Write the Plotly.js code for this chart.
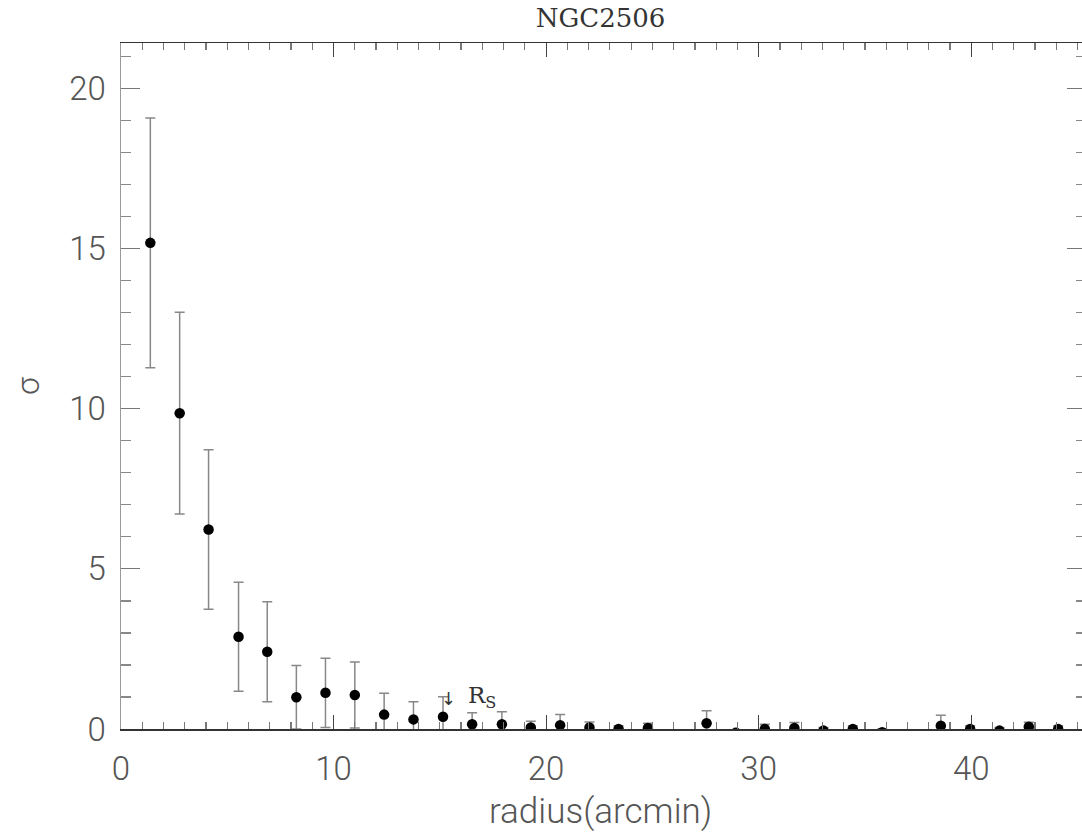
<!DOCTYPE html>
<html>
<head>
<meta charset="utf-8">
<script src="https://cdn.plot.ly/plotly-3.0.1.min.js"></script>
<style>
html,body{margin:0;padding:0;overflow:hidden;background:#fff;}
#chart{width:1086px;height:836px;}
</style>
</head>
<body>
<div id="chart"></div>
<script>
// Radial density profile of NGC2506
const radius = [1.38, 2.76, 4.12, 5.53, 6.88, 8.25, 9.62, 11.0, 12.38, 13.76, 15.15, 16.52, 17.92, 19.28, 20.66, 22.04, 23.41, 24.79, 26.17, 27.55, 28.93, 30.29, 31.68, 33.05, 34.43, 35.81, 37.19, 38.57, 39.95, 41.33, 42.71, 44.09];
const sigma = [15.18, 9.86, 6.23, 2.88, 2.41, 0.99, 1.13, 1.06, 0.45, 0.30, 0.38, 0.15, 0.15, 0.05, 0.12, 0.05, 0.0, 0.03, -0.3, 0.18, -0.12, 0.0, 0.03, -0.05, 0.0, -0.1, -0.3, 0.10, 0.0, -0.05, 0.07, 0.0];
const sigmaErr = [3.9, 3.15, 2.49, 1.7, 1.56, 0.99, 1.08, 1.03, 0.67, 0.55, 0.63, 0.36, 0.39, 0.19, 0.33, 0.17, 0.1, 0.15, 0.2, 0.39, 0.1, 0.15, 0.17, 0.1, 0.1, 0.1, 0.1, 0.33, 0.1, 0.1, 0.14, 0.1];
const titleText = "NGC2506";
const xTitle = "radius(arcmin)";
const yTitle = "σ";
const rsX = 15.4;

const tickFont = {family: "Roboto", weight: 300, size: 33, color: "#555"};

const trace = {
  x: radius, y: sigma, type: "scatter", mode: "markers",
  marker: {color: "#000", size: 10.5},
  error_y: {type: "data", array: sigmaErr, visible: true, color: "#888", thickness: 1.5, width: 5},
  cliponaxis: true, showlegend: false, hoverinfo: "x+y"
};

const layout = {
  width: 1086, height: 836,
  margin: {l: 121, r: 0, t: 43, b: 107},
  paper_bgcolor: "#fff", plot_bgcolor: "#fff",
  title: {text: titleText, font: {family: "DejaVu Serif", size: 26, color: "#333"},
          xref: "paper", x: 0.497, xanchor: "center", yref: "container", y: 0.979, yanchor: "middle"},
  xaxis: {
    range: [0, 45.4], showgrid: false, zeroline: false,
    showline: true, linecolor: "#333", linewidth: 1.5, mirror: "ticks",
    ticks: "inside", ticklen: 14, tickwidth: 1.2, tickcolor: "#444",
    tick0: 0, dtick: 10, tickfont: tickFont, ticklabelstandoff: 10,
    minor: {dtick: 1, ticks: "inside", ticklen: 7, tickwidth: 1.2, tickcolor: "#777", showgrid: false}
  },
  yaxis: {
    range: [0, 21.42], showgrid: false, zeroline: false,
    showline: true, linecolor: "#999", linewidth: 1.5, mirror: "ticks",
    ticks: "inside", ticklen: 19, tickwidth: 1.2, tickcolor: "#777",
    tick0: 0, dtick: 5, tickfont: tickFont, ticklabelstandoff: 7,
    minor: {dtick: 1, ticks: "inside", ticklen: 10, tickwidth: 1.2, tickcolor: "#888", showgrid: false},
    title: {text: yTitle, font: {family: "Roboto", weight: 300, size: 32, color: "#555"}, standoff: 20}
  },
  annotations: [
    {x: 0.497, y: -0.12, xref: "paper", yref: "paper", text: xTitle, showarrow: false,
     font: {family: "Roboto", weight: 300, size: 35, color: "#555"}, xanchor: "center", yanchor: "middle"},
    {x: rsX, y: 0.94, xref: "x", yref: "y", text: "↓", showarrow: false,
     font: {family: "DejaVu Sans", size: 18, color: "#333"}, xanchor: "center", yanchor: "middle"},
    {x: 16.25, y: 1.0, xref: "x", yref: "y", text: "R<sub>S</sub>", showarrow: false,
     font: {family: "DejaVu Serif", size: 23, color: "#333"}, xanchor: "left", yanchor: "middle"}
  ]
};

Plotly.newPlot("chart", [trace], layout, {displayModeBar: false, staticPlot: true});
</script>
</body>
</html>
